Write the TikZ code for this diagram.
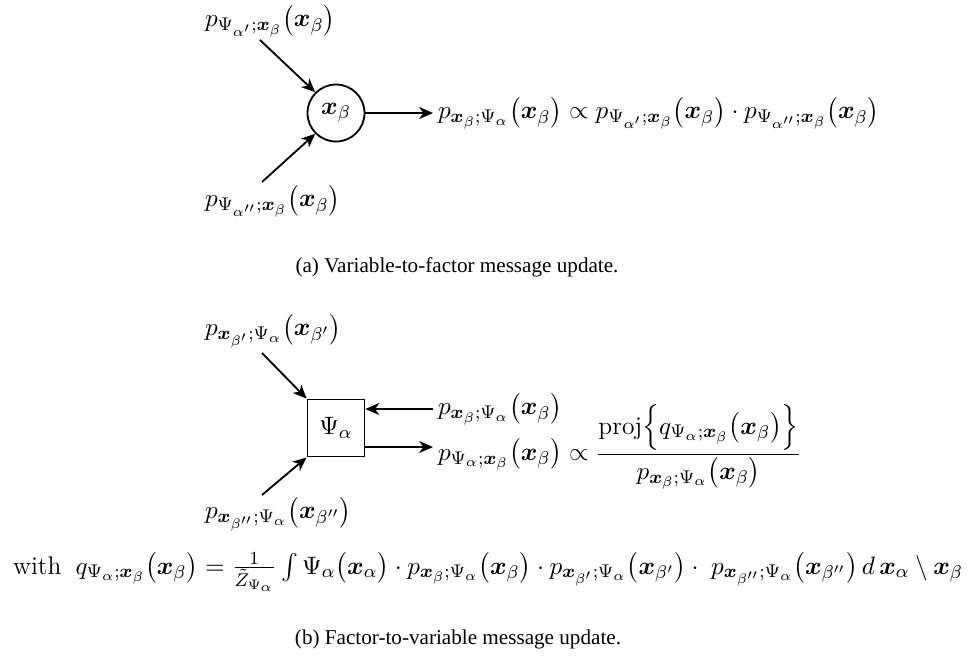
\documentclass[tikz,border=0pt]{standalone}
\usepackage{amsmath}
\usepackage{amssymb}
\usepackage{bm}
\usepackage{fontspec}
\usetikzlibrary{arrows.meta}
\newfontfamily\capfont{Liberation Serif}
\newcommand{\xb}[1]{\boldsymbol{x}_{#1}}
\tikzset{
  every node/.append style={font=\fontsize{11.1pt}{13pt}\selectfont},
  msg/.style={-{Stealth[length=6pt, width=5.2pt, inset=1.8pt]}, line width=0.8pt},
  varnode/.style={circle, draw, line width=0.8pt, minimum size=24.8pt, inner sep=0pt},
  facnode/.style={rectangle, draw, line width=0.8pt, minimum size=24.8pt, inner sep=0pt},
  lbl/.style={inner sep=2pt, anchor=west},
  subcap/.style={font=\capfont\fontsize{9.2pt}{11pt}\selectfont},
}
\begin{document}
\begin{tikzpicture}[x=0.435pt, y=-0.435pt]
    \useasboundingbox (0,0) rectangle (973,660);
    % (a) variable to factor
    \node[varnode] (var) at (336,113) {$\xb{\beta}$};
    \node[lbl] (ain1) at (200,21) {$p_{\Psi_{\alpha'};\xb{\beta}}\bigl(\xb{\beta}\bigr)$};
    \node[lbl] (ain2) at (200,201) {$p_{\Psi_{\alpha''};\xb{\beta}}\bigl(\xb{\beta}\bigr)$};
    \node[lbl] (aout) at (433,113) {$p_{\xb{\beta};\Psi_\alpha}\bigl(\xb{\beta}\bigr) \propto p_{\Psi_{\alpha'};\xb{\beta}}\bigl(\xb{\beta}\bigr)\cdot p_{\Psi_{\alpha''};\xb{\beta}}\bigl(\xb{\beta}\bigr)$};
    \coordinate (s1) at (260,40);
    \coordinate (s2) at (262,182);
    \draw[msg] (s1) -- (var.135);
    \draw[msg] (s2) -- (var.225);
    \draw[msg] (var.east) -- (aout.west);
    \node[subcap] (capa) at (457,267) {(a) Variable-to-factor message update.};
    % (b) factor to variable
    \node[facnode] (fac) at (336,428) {$\Psi_\alpha$};
    \node[lbl] (bin1) at (200,331) {$p_{\xb{\beta'};\Psi_\alpha}\bigl(\xb{\beta'}\bigr)$};
    \node[lbl] (bin2) at (200,514) {$p_{\xb{\beta''};\Psi_\alpha}\bigl(\xb{\beta''}\bigr)$};
    \node[lbl] (bin3) at (433,409) {$p_{\xb{\beta};\Psi_\alpha}\bigl(\xb{\beta}\bigr)$};
    \node[lbl] (bout) at (433,447) {$p_{\Psi_\alpha;\xb{\beta}}\bigl(\xb{\beta}\bigr) \propto
      \dfrac{\mathrm{proj}\Bigl\{q_{\Psi_\alpha;\xb{\beta}}\bigl(\xb{\beta}\bigr)\Bigr\}}{p_{\xb{\beta};\Psi_\alpha}\bigl(\xb{\beta}\bigr)}$};
    \coordinate (s3) at (262,353);
    \coordinate (s4) at (262,495);
    \draw[msg] (s3) -- (fac.north west);
    \draw[msg] (s4) -- (fac.south west);
    \draw[msg] (bin3.west) -- (bin3.west -| fac.east);
    \draw[msg] (bout.west -| fac.east) -- (bout.west);
    \node (with) at (488,572) {$\text{with}\;\; q_{\Psi_\alpha;\xb{\beta}}\bigl(\xb{\beta}\bigr) = \frac{1}{\tilde{Z}_{\Psi_\alpha}}\int \Psi_\alpha\bigl(\xb{\alpha}\bigr)\cdot p_{\xb{\beta};\Psi_\alpha}\bigl(\xb{\beta}\bigr)\cdot p_{\xb{\beta'};\Psi_\alpha}\bigl(\xb{\beta'}\bigr)\cdot\; p_{\xb{\beta''};\Psi_\alpha}\bigl(\xb{\beta''}\bigr)\,d\,\xb{\alpha}\setminus\xb{\beta}$};
    \node[subcap] (capb) at (458,639) {(b) Factor-to-variable message update.};
\end{tikzpicture}
\end{document}
